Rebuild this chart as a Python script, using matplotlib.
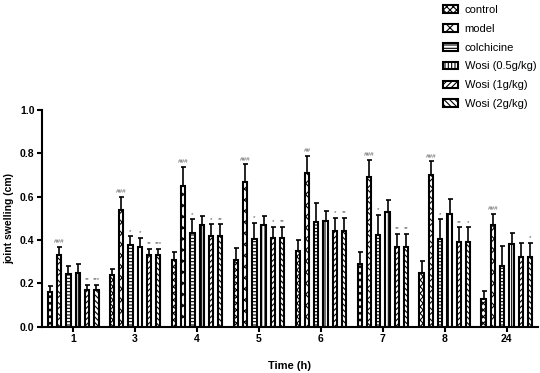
import matplotlib
matplotlib.use("Agg")
import matplotlib.pyplot as plt
import numpy as np

plt.rcParams['font.family'] = ['Liberation Sans', 'DejaVu Sans']
plt.rcParams['hatch.linewidth'] = 0.8

times = ["1", "3", "4", "5", "6", "7", "8", "24"]
groups = ["control", "model", "colchicine", "Wosi (0.5g/kg)", "Wosi (1g/kg)", "Wosi (2g/kg)"]

control = [0.16, 0.24, 0.31, 0.31, 0.35, 0.29, 0.25, 0.13]
control_sd = [0.03, 0.027, 0.035, 0.054, 0.05, 0.053, 0.052, 0.037]
model = [0.33, 0.54, 0.65, 0.67, 0.71, 0.69, 0.70, 0.47]
model_sd = [0.04, 0.06, 0.087, 0.08, 0.08, 0.08, 0.063, 0.05]
colchicine = [0.245, 0.377, 0.434, 0.405, 0.485, 0.423, 0.403, 0.28]
colchicine_sd = [0.034, 0.041, 0.062, 0.075, 0.084, 0.092, 0.093, 0.092]
wosi05 = [0.25, 0.37, 0.47, 0.47, 0.49, 0.53, 0.52, 0.38]
wosi05_sd = [0.041, 0.039, 0.042, 0.042, 0.043, 0.055, 0.068, 0.054]
wosi1 = [0.17, 0.33, 0.42, 0.41, 0.44, 0.37, 0.39, 0.32]
wosi1_sd = [0.023, 0.031, 0.053, 0.051, 0.063, 0.059, 0.068, 0.068]
wosi2 = [0.17, 0.33, 0.42, 0.41, 0.44, 0.37, 0.39, 0.32]
wosi2_sd = [0.023, 0.031, 0.053, 0.051, 0.063, 0.059, 0.068, 0.068]

# significance marks per series, per time point
model_sig = ["###", "###", "###", "###", "##", "###", "###", "###"]
colchicine_sig = ["", "*", "*", "*", "", "*", "*", ""]
wosi05_sig = ["", "*", "", "", "", "", "", ""]
wosi1_sig = ["**", "**", "*", "*", "*", "**", "**", ""]
wosi2_sig = ["***", "***", "**", "**", "**", "**", "*", "*"]

series = [control, model, colchicine, wosi05, wosi1, wosi2]
sds = [control_sd, model_sd, colchicine_sd, wosi05_sd, wosi1_sd, wosi2_sd]
sigs = [[""] * 8, model_sig, colchicine_sig, wosi05_sig, wosi1_sig, wosi2_sig]
hatches = ["xxxxx", "xxx", "-----", "|||||", "//////", "\\\\\\\\\\\\"]

fig = plt.figure(figsize=(5.4, 3.73), dpi=100)
ax = fig.add_axes([0.078, 0.124, 0.918, 0.581])

x = np.arange(len(times))
pitch = 0.15
width = 0.07
for k in range(6):
    pos = x + (k - 2.5) * pitch
    ax.bar(pos, series[k], width, color="white", edgecolor="black",
           linewidth=1.5, hatch=hatches[k], label=groups[k], zorder=2)
    ax.errorbar(pos, series[k], yerr=[np.zeros(8), sds[k]], fmt="none",
                ecolor="black", elinewidth=1.2, capsize=1.8, capthick=1.2, zorder=3)
    for i in range(8):
        if sigs[k][i]:
            ax.text(pos[i], series[k][i] + sds[k][i] + 0.012, sigs[k][i],
                    ha="center", va="bottom", fontsize=4.5, color="#555555",
                    style="italic" if "#" in sigs[k][i] else "normal")

ax.set_xlim(-0.5, 7.5)
ax.set_ylim(0, 1.0)
ax.set_yticks([0.0, 0.2, 0.4, 0.6, 0.8, 1.0])
ax.set_yticklabels(["0.0", "0.2", "0.4", "0.6", "0.8", "1.0"])
ax.set_xticks(x)
ax.set_xticklabels(times)
for lab in ax.get_xticklabels() + ax.get_yticklabels():
    lab.set_fontweight("bold")
    lab.set_fontsize(7.5)
ax.tick_params(direction="out", length=3.5, width=1.5, pad=2)
ax.spines["top"].set_visible(False)
ax.spines["right"].set_visible(False)
ax.spines["left"].set_linewidth(1.5)
ax.spines["bottom"].set_linewidth(1.5)

ax.set_ylabel("joint swelling (cm)", fontsize=7.5, fontweight="bold", labelpad=4)
ax.set_xlabel("Time (h)", fontsize=8, fontweight="bold", labelpad=12)

fig.legend(loc="upper left", bbox_to_anchor=(0.806, 1.008), frameon=False,
           fontsize=8, handlelength=1.35, handleheight=0.7,
           handletextpad=0.6, labelspacing=0.8, borderpad=0.2)

fig.savefig("out.png", dpi=100)
